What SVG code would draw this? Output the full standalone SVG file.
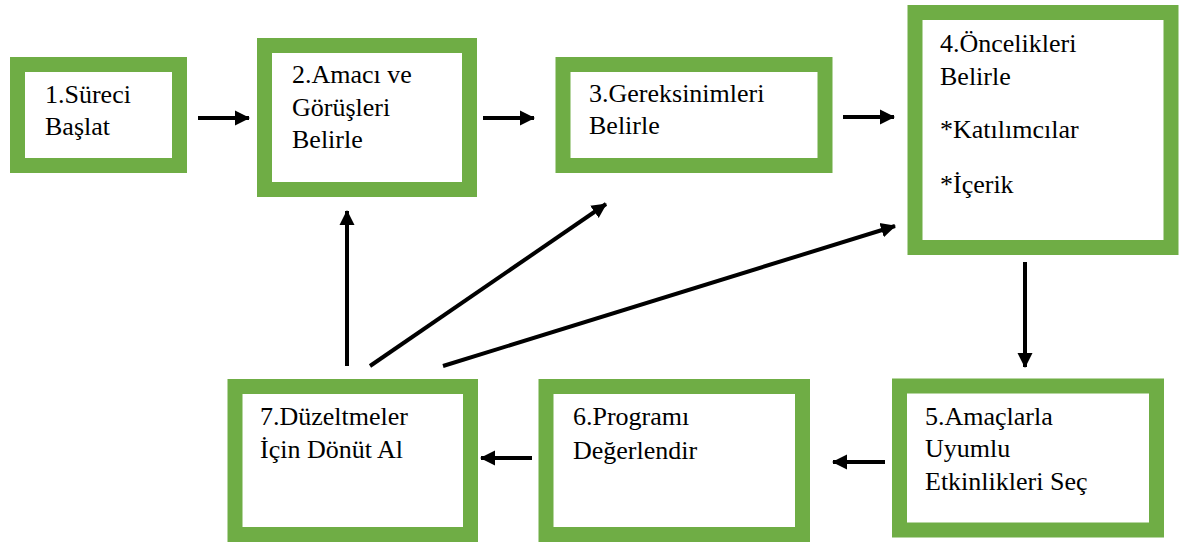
<svg xmlns="http://www.w3.org/2000/svg" width="1181" height="545" viewBox="0 0 1181 545">
<style>
.box{fill:#fff;stroke:#6fad45;stroke-width:15}
.t{font-size:26px;fill:#000}
.c{stroke:#000;stroke-width:4;fill:none;marker-end:url(#ah)}
</style>
<defs>
<marker id="ah" markerUnits="userSpaceOnUse" markerWidth="18" markerHeight="18" refX="14" refY="9" orient="auto">
<path d="M0,1.5 L15,9 L0,16.5 Z" fill="#000"/>
</marker>
</defs>
<rect width="1181" height="545" fill="#fff"/>
<g font-family="Liberation Serif, Tinos, Times New Roman, DejaVu Serif, Noto Serif, serif">
<g id="n1"><rect class="box" x="17.5" y="64.5" width="162" height="101"/>
<text class="t" x="45" y="103">1.Süreci</text><text class="t" x="45" y="135">Başlat</text></g>
<g id="n2"><rect class="box" x="264.5" y="45.5" width="205" height="144"/>
<text class="t" x="292" y="83">2.Amacı ve</text><text class="t" x="292" y="116">Görüşleri</text><text class="t" x="292" y="148">Belirle</text></g>
<g id="n3"><rect class="box" x="563" y="64.5" width="262" height="101"/>
<text class="t" x="589" y="102">3.Gereksinimleri</text><text class="t" x="589" y="134">Belirle</text></g>
<g id="n4"><rect class="box" x="915" y="12.5" width="256" height="235"/>
<text class="t" x="940" y="52">4.Öncelikleri</text><text class="t" x="940" y="85">Belirle</text><text class="t" x="940" y="138">*Katılımcılar</text><text class="t" x="940" y="193">*İçerik</text></g>
<g id="n5"><rect class="box" x="899.5" y="386" width="257" height="144"/>
<text class="t" x="925" y="425">5.Amaçlarla</text><text class="t" x="925" y="457">Uyumlu</text><text class="t" x="925" y="490">Etkinlikleri Seç</text></g>
<g id="n6"><rect class="box" x="546" y="386.5" width="256.5" height="148"/>
<text class="t" x="573" y="425">6.Programı</text><text class="t" x="573" y="459">Değerlendir</text></g>
<g id="n7"><rect class="box" x="235" y="386.5" width="235.5" height="148"/>
<text class="t" x="260" y="425">7.Düzeltmeler</text><text class="t" x="260" y="458">İçin Dönüt Al</text></g>
</g>
<g id="connectors">
<line class="c" x1="198" y1="118" x2="249" y2="118"/>
<line class="c" x1="483" y1="118" x2="534" y2="118"/>
<line class="c" x1="843" y1="117" x2="894" y2="117"/>
<line class="c" x1="1025" y1="262" x2="1025" y2="367"/>
<line class="c" x1="885" y1="462" x2="833" y2="462"/>
<line class="c" x1="532" y1="458" x2="481" y2="458"/>
<line class="c" x1="347" y1="366" x2="347" y2="211"/>
<line class="c" x1="370" y1="366" x2="606" y2="204"/>
<line class="c" x1="443" y1="366" x2="895" y2="226"/>
</g>
</svg>
